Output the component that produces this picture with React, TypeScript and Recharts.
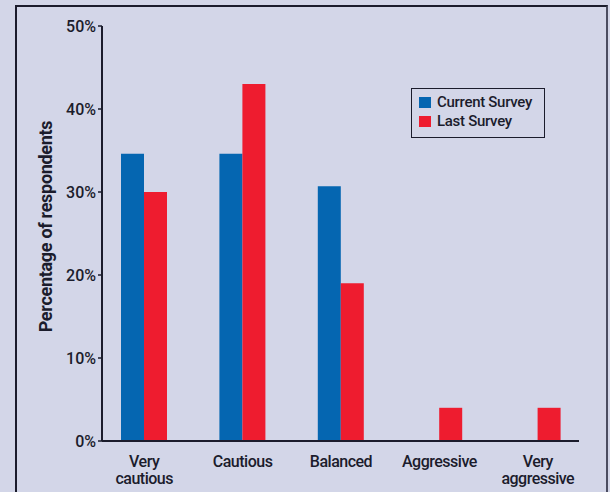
import React from "react";
import { BarChart, Bar, XAxis, YAxis, Legend } from "recharts";

const categories = ["Very\ncautious", "Cautious", "Balanced", "Aggressive", "Very\naggressive"];
const currentSurvey = [34.6, 34.6, 30.7, 0, 0];
const lastSurvey = [30, 43, 19, 4, 4];
const yTicks = [0, 10, 20, 30, 40, 50];

const FONT = "Roboto, 'DejaVu Sans Condensed', sans-serif";
const INK = "#1b1c2c";
const BLUE = "#0566b1";
const RED = "#ee1c2f";
const BG = "#d3d6e8";

const data = categories.map((name, i) => ({
  name,
  current: currentSurvey[i],
  last: lastSurvey[i],
}));

// two-line category labels, split on "\n"
const CategoryTick = ({ x, y, payload }: any) => {
  const lines = String(payload.value).split("\n");
  return (
    <text
      x={x}
      y={y}
      textAnchor="middle"
      fill={INK}
      fontFamily={FONT}
      fontWeight={500}
      fontSize={16}
      letterSpacing={-0.5}
    >
      {lines.map((line, i) => (
        <tspan key={i} x={x} dy={i === 0 ? 18 : 17}>
          {line}
        </tspan>
      ))}
    </text>
  );
};

const YTitle = ({ viewBox }: any) => {
  const x = viewBox.x + 36;
  const y = viewBox.y + viewBox.height / 2 - 7;
  return (
    <text
      x={x}
      y={y}
      transform={`rotate(-90, ${x}, ${y})`}
      textAnchor="middle"
      fill={INK}
      fontFamily={FONT}
      fontWeight="bold"
      fontSize={18}
      letterSpacing={-0.3}
    >
      Percentage of respondents
    </text>
  );
};

const LegendBox = () => (
  <div
    style={{
      border: `1.5px solid ${INK}`,
      padding: "4px 0 6px 7px",
      fontFamily: FONT,
      fontWeight: 500,
      fontSize: 15,
      letterSpacing: -0.3,
      color: INK,
      lineHeight: "19px",
      width: 125,
      whiteSpace: "nowrap",
    }}
  >
    {[
      { label: "Current Survey", color: BLUE },
      { label: "Last Survey", color: RED },
    ].map((item) => (
      <div key={item.label} style={{ display: "flex", alignItems: "center" }}>
        <span style={{ width: 12, height: 11, background: item.color, marginRight: 6, display: "inline-block" }} />
        <span>{item.label}</span>
      </div>
    ))}
  </div>
);

export default function App() {
  return (
    <div style={{ position: "fixed", left: 0, top: 0, width: 610, height: 492, background: BG, overflow: "hidden" }}>
      <div
        style={{
          position: "absolute",
          left: 15,
          top: 5,
          width: 589,
          height: 520,
          borderTop: `2px solid ${INK}`,
          borderLeft: `2px solid ${INK}`,
          borderRight: "2px solid #4b4d60",
        }}
      />
      <BarChart
        width={610}
        height={492}
        data={data}
        margin={{ top: 26, right: 31, left: 16, bottom: 6 }}
        barGap={0}
        barSize={23}
        style={{ position: "absolute", left: 0, top: 0 }}
      >
        <XAxis
          dataKey="name"
          height={45}
          interval={0}
          padding={{ left: -7, right: -8 }}
          axisLine={{ stroke: INK, strokeWidth: 2 }}
          tickLine={false}
          tick={<CategoryTick />}
        />
        <YAxis
          width={86}
          domain={[0, 50]}
          ticks={yTicks}
          interval={0}
          tickFormatter={(v: number) => `${v}%`}
          axisLine={{ stroke: INK, strokeWidth: 2 }}
          tickLine={{ stroke: INK, strokeWidth: 1.5 }}
          tickSize={4}
          tick={{ fill: INK, fontFamily: FONT, fontWeight: 500, fontSize: 16 }}
          label={<YTitle />}
        />
        <Legend
          layout="vertical"
          align="center"
          verticalAlign="middle"
          content={<LegendBox />}
          wrapperStyle={{ left: 411, top: 88, width: "auto", height: "auto" }}
        />
        <Bar dataKey="current" fill={BLUE} isAnimationActive={false} />
        <Bar dataKey="last" fill={RED} isAnimationActive={false} />
      </BarChart>
    </div>
  );
}
